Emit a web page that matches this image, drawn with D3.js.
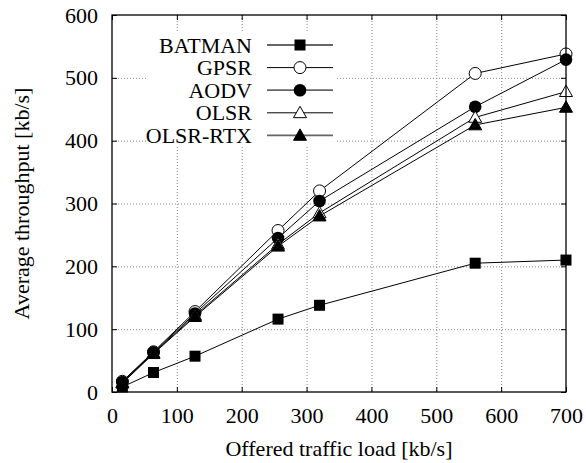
<!DOCTYPE html>
<html><head><meta charset="utf-8">
<script src="https://cdn.jsdelivr.net/npm/d3@7"></script>
<style>
body{margin:0;background:#fff;}
svg{display:block;}
</style></head>
<body>
<svg id="chart" width="586" height="463"></svg>
<script>
const loads = [16, 64, 128, 256, 320, 560, 700];
const seriesNames = ["BATMAN", "GPSR", "AODV", "OLSR", "OLSR-RTX"];
const batman = [8, 31, 57, 116, 138, 205, 210];
const gpsr = [17, 64, 128, 257, 320, 507, 538];
const aodv = [16, 63, 125, 245, 304, 454, 529];
const olsr = [15, 62, 122, 235, 285, 437, 478];
const olsrRtx = [14, 61, 120, 232, 280, 425, 453];
const xTicks = [0, 100, 200, 300, 400, 500, 600, 700];
const yTicks = [0, 100, 200, 300, 400, 500, 600];
const markers = ["square", "circleOpen", "circle", "triangleOpen", "triangle"];

const FONT = '"Liberation Serif"';
const allValues = [batman, gpsr, aodv, olsr, olsrRtx];
const svg = d3.select("#chart");
const m = {left:112, right:566, top:15, bottom:392};
const x = d3.scaleLinear().domain([0,700]).range([m.left, m.right]);
const y = d3.scaleLinear().domain([0,600]).range([m.bottom, m.top]);
const fs = "22px";

// grid
const grid = svg.append("g").attr("stroke","#888").attr("stroke-width",1).attr("stroke-dasharray","1,2");
xTicks.slice(1,-1).forEach(t=>grid.append("line").attr("x1",x(t)+0.5).attr("x2",x(t)+0.5).attr("y1",m.top).attr("y2",m.bottom));
yTicks.slice(1,-1).forEach(t=>grid.append("line").attr("y1",y(t)+0.5).attr("y2",y(t)+0.5).attr("x1",m.left).attr("x2",m.right));

// axes with inward ticks
const bottomAxis = d3.axisBottom(x).tickValues(xTicks).tickSizeInner(-5).tickSizeOuter(0).tickPadding(15);
const leftAxis = d3.axisLeft(y).tickValues(yTicks).tickSizeInner(-5).tickSizeOuter(0).tickPadding(14);
const topAxis = d3.axisTop(x).tickValues(xTicks).tickSizeInner(-5).tickSizeOuter(0).tickFormat("");
const rightAxis = d3.axisRight(y).tickValues(yTicks).tickSizeInner(-5).tickSizeOuter(0).tickFormat("");
function styleAxis(g){
  g.attr("font-family", null).attr("font-size", null);
  g.select(".domain").remove();
  g.selectAll("line").attr("stroke","#000");
  g.selectAll("text").style("font-size",fs).style("font-family",FONT).attr("fill","#000");
}
svg.append("g").attr("transform",`translate(0,${m.bottom})`).call(bottomAxis).call(styleAxis);
svg.append("g").attr("transform",`translate(${m.left},0)`).call(leftAxis).call(styleAxis);
svg.append("g").attr("transform",`translate(0,${m.top})`).call(topAxis).call(styleAxis);
svg.append("g").attr("transform",`translate(${m.right},0)`).call(rightAxis).call(styleAxis);

// legend background
const lg = {x0:146, x1:336, y0:32, y1:146};
svg.append("rect").attr("x",lg.x0).attr("y",lg.y0).attr("width",lg.x1-lg.x0).attr("height",lg.y1-lg.y0).attr("fill","#fff");

function drawMarker(g, type, cx, cy){
  if(type==="square"){
    g.append("rect").attr("x",cx-5.5).attr("y",cy-5.5).attr("width",11).attr("height",11).attr("fill","#000");
  } else if(type==="circleOpen"){
    g.append("circle").attr("cx",cx).attr("cy",cy).attr("r",6).attr("fill","#fff").attr("stroke","#000").attr("stroke-width",1);
  } else if(type==="circle"){
    g.append("circle").attr("cx",cx).attr("cy",cy).attr("r",6.3).attr("fill","#000");
  } else {
    const s = 6.5;
    const p = `M${cx},${cy-s} L${cx+s},${cy+s*0.75} L${cx-s},${cy+s*0.75} Z`;
    g.append("path").attr("d",p)
      .attr("fill", type==="triangle" ? "#000" : "#fff")
      .attr("stroke","#000").attr("stroke-width",1);
  }
}

// series lines and markers
const line = d3.line().x((d,i)=>x(loads[i])).y(d=>y(d));
allValues.forEach((vals,si)=>{
  svg.append("path").attr("d",line(vals)).attr("fill","none").attr("stroke","#000").attr("stroke-width",1);
});
allValues.forEach((vals,si)=>{
  const g = svg.append("g");
  vals.forEach((v,i)=>drawMarker(g, markers[si], x(loads[i]), y(v)));
});

// frame
svg.append("rect").attr("x",m.left).attr("y",m.top).attr("width",m.right-m.left).attr("height",m.bottom-m.top)
  .attr("fill","none").attr("stroke","#000").attr("stroke-width",1.3);

// legend entries
seriesNames.forEach((name,i)=>{
  const cy = 45 + i*22.6;
  const g = svg.append("g");
  g.append("text").attr("x",252).attr("y",cy+7.5).attr("text-anchor","end")
    .style("font-size",fs).style("font-family",FONT).attr("fill","#000").text(name);
  g.append("line").attr("x1",267).attr("x2",333).attr("y1",cy).attr("y2",cy)
    .attr("stroke", (i%2===0) ? "#666" : "#000").attr("stroke-width", (i%2===0)?1.8:1);
  drawMarker(g, markers[i], 300, cy);
});

// axis titles
svg.append("text").attr("x",(m.left+m.right)/2).attr("y",456).attr("text-anchor","middle")
  .style("font-size",fs).style("font-family",FONT).attr("fill","#000")
  .text("Offered traffic load [kb/s]");
svg.append("text").attr("transform",`translate(29,${(m.top+m.bottom)/2}) rotate(-90)`).attr("text-anchor","middle")
  .style("font-size",fs).style("font-family",FONT).attr("fill","#000")
  .text("Average throughput [kb/s]");
</script>
</body></html>
